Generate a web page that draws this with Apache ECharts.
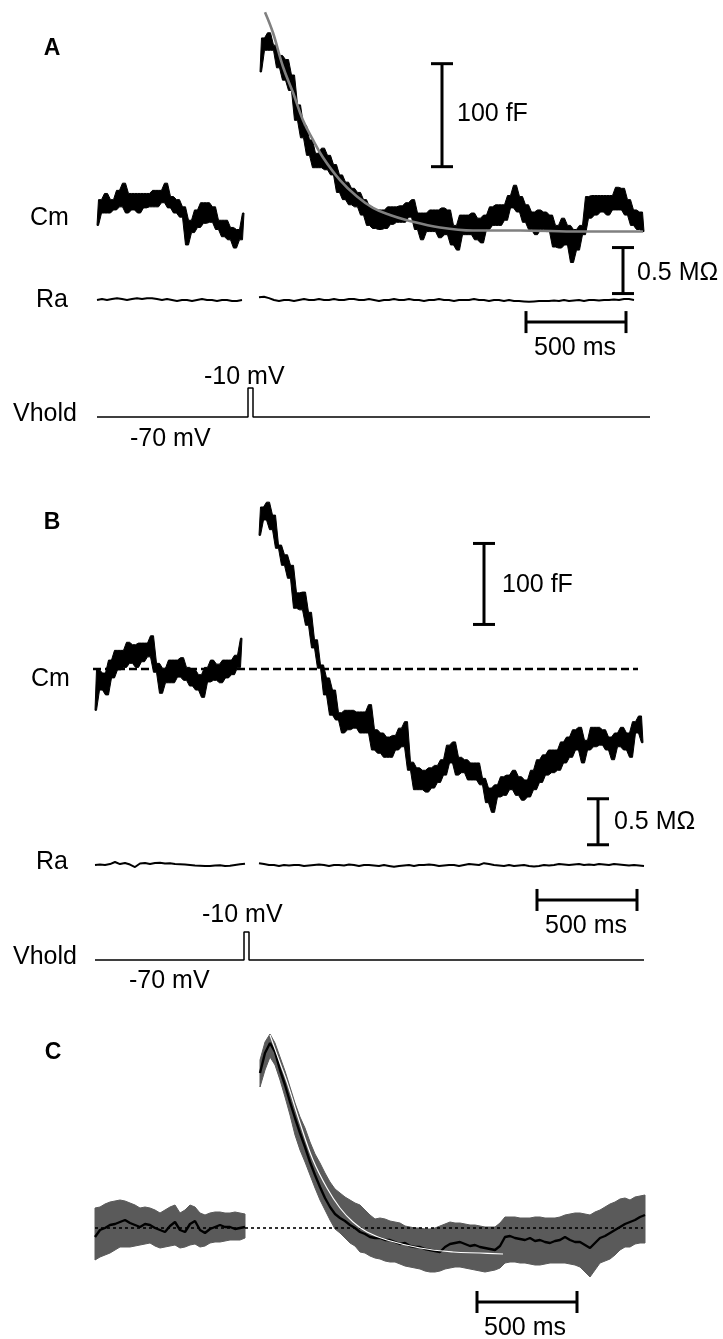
<!DOCTYPE html>
<html><head><meta charset="utf-8">
<script src="https://cdn.jsdelivr.net/npm/echarts@6/dist/echarts.min.js"></script>
<style>html,body{margin:0;padding:0;background:#fff}#chart{width:723px;height:1339px}</style>
</head><body><div id="chart"></div>
<script>
// ---------------- DATA ----------------
// Time base: ms. Cm in fF (relative to pre-pulse baseline), Ra in MOhm (relative), Vhold in mV.
const SCALE_MS = 500, SCALE_FF = 100, SCALE_MOHM = 0.5;
const TICK_LABELS = ['100 fF', '0.5 MΩ', '500 ms', '-10 mV', '-70 mV'];

// Panel A - Cm, sampled every 15 ms (alternating upper / lower edge of the noisy trace)
const A_CM_PRE_T0 = 0, A_CM_POST_T0 = 815, CM_DT = 15;
const A_CM_PRE = [-13,12,-1,18,-1,12,2,21,5,28,-1,18,2,18,-1,18,4,18,5,21,5,21,9,28,4,15,-1,12,-5,5,-32,-8,-20,2,-15,9,-11,9,-10,5,-17,-8,-24,-8,-27,-15,-35,-17,-27,-1];
const A_CM_POST = [136,169,157,174,157,162,140,152,128,148,118,133,89,104,72,84,55,70,43,57,43,62,41,55,36,46,19,36,12,29,7,23,5,19,-3,12,-13,5,-16,2,-17,2,-16,5,-12,5,-10,6,-10,9,-5,12,-17,-1,-27,-1,-19,2,-19,2,-25,4,-22,2,-32,-13,-37,-3,-22,-3,-22,-1,-27,-6,-30,-3,-17,5,-13,7,-13,7,-8,16,4,26,0,15,-10,7,-17,0,-22,2,-17,0,-19,-3,-34,-13,-35,-6,-32,-13,-49,-17,-37,-13,-22,15,-6,16,-3,16,0,16,-3,16,2,24,2,23,-3,12,-13,2,-17,0,-19];
const A_FIT_T = [840,880,930,980,1030,1080,1130,1215,1300,1380,1465,1550,1715,1880,2115,2415,2730];
const A_FIT_V = [194,174,141,116,89,70,53,31,15,4,-3,-8,-15,-18,-18,-19,-19];
// Panel A - Ra, every 25 ms
const RA_DT = 25, A_RA_PRE_T0 = 0, A_RA_POST_T0 = 810;
const A_RA_PRE = [0,0.01,0,0.01,0.02,0.01,0,0.01,0.02,0.01,0.02,0.02,0.01,0,0.01,0,-0.01,0,0,-0.01,0,0.01,0,0,-0.01,0,0,-0.01,-0.01,0];
const A_RA_POST = [0.03,0.035,0.02,0,-0.01,0,0,-0.01,0,0.01,0,0,0.01,0,0,0.01,0,0,0.01,0.01,0,0,0.01,0,-0.01,0,0,0.01,0,0,0.01,0,0,-0.01,0,0,0.01,0,0,-0.01,0,0,0,0.01,0,0,-0.01,0,0,-0.01,0,-0.01,-0.01,-0.015,-0.02,-0.015,-0.01,-0.01,-0.01,-0.005,-0.01,0,-0.01,-0.005,0,-0.01,0,0,-0.005,0,0,0.005,0,0.01,0.01,0];
// Panel A - Vhold
const A_V_T = [0,755,755,780,780,2765];
const A_V_MV = [-70,-70,-10,-10,-70,-70];

// Panel B - Cm, every 15 ms
const B_CM_PRE_T0 = 0, B_CM_POST_T0 = 820;
const B_CM_PRE = [-51,-1,-26,-5,-32,11,-11,23,-1,23,2,33,7,30,2,32,9,32,15,41,-4,7,-30,1,-17,11,-17,11,-10,14,-14,2,-21,-1,-26,-7,-35,2,-16,11,-14,6,-17,11,-11,11,-7,17,2,38];
const B_CM_POST = [165,200,184,206,172,190,149,153,128,141,112,128,75,94,73,95,54,70,26,36,1,5,-32,-11,-57,-26,-63,-54,-79,-51,-75,-51,-73,-53,-79,-53,-79,-44,-100,-75,-104,-79,-109,-84,-109,-82,-100,-73,-96,-65,-125,-115,-149,-122,-149,-125,-152,-122,-147,-119,-140,-112,-131,-94,-116,-90,-131,-109,-128,-112,-137,-116,-137,-116,-143,-135,-165,-147,-177,-143,-158,-133,-156,-131,-149,-125,-156,-133,-162,-137,-158,-125,-149,-112,-140,-106,-131,-100,-128,-100,-125,-90,-116,-84,-109,-75,-100,-72,-116,-88,-100,-72,-96,-72,-94,-75,-100,-84,-112,-79,-96,-72,-100,-79,-109,-65,-79,-58,-91];
const B_BASELINE_T = [-10, 2715];
const B_BASELINE_V = [0, 0];
// Panel B - Ra
const B_RA_PRE_T0 = 0, B_RA_POST_T0 = 820;
const B_RA_PRE = [0,0.005,0,0.01,0.033,0.01,0.022,0.005,-0.022,0.016,0.022,0.01,0.022,0.025,0.016,0.018,0.01,0.008,0.005,0,-0.005,-0.008,-0.011,-0.011,-0.005,-0.003,-0.011,-0.008,0,0.008,0.014];
const B_RA_POST = [0.02,0.01,0,0,-0.01,0,-0.005,0,0,-0.01,-0.005,0,0.005,0,-0.01,0,0,-0.005,0.005,0,-0.01,0,0,-0.005,-0.01,0,-0.01,-0.02,-0.01,-0.005,0,-0.01,0,0,0.005,0,-0.01,-0.005,0,0,-0.01,0,0.01,0.005,0,0.02,0.01,0,-0.005,-0.01,0,-0.01,-0.005,0,-0.01,-0.015,-0.01,0,-0.005,0,0.01,0.005,0,0.005,0.01,0,0.005,0,0.01,0.005,0,0.01,0.005,0,-0.005,0,-0.005,-0.01];
// Panel B - Vhold
const B_V_T = [0,745,745,770,770,2745];
const B_V_MV = [-70,-70,-10,-10,-70,-70];

// Panel C - mean and mean ± error band, every 25 ms
const C_DT = 25, C_PRE_T0 = 0, C_POST_T0 = 825;
const C_UP_PRE = [20,21,24,26,27,28,27,25,23,20,21,20,18,15,18,21,23,15,18,23,21,15,13,15,16,16,15,15,16,15,14];
const C_LO_PRE = [-32,-29,-27,-25,-22,-19,-19,-19,-18,-17,-16,-15,-18,-20,-19,-18,-17,-20,-19,-17,-16,-19,-18,-15,-14,-14,-13,-12,-12,-12,-10];
const C_MEAN_PRE = [-9,-2,0,3,4,6,8,5,3,1,4,3,0,-2,-4,2,6,-2,-4,4,7,-2,-5,-1,1,3,1,1,-1,0,1];
const C_UP_POST = [168,186,194,185,171,157,141,125,111,100,86,74,65,55,46,39,35,31,28,25,23,18,13,9,10,9,7,6,5,2,1,0,0,-1,-1,0,2,4,6,5,5,4,3,3,2,1,1,1,5,11,11,11,10,10,10,11,11,10,10,10,11,13,14,15,15,14,13,16,18,21,24,26,29,30,28,31,32,33];
const C_LO_POST = [141,158,171,163,148,131,113,93,78,66,53,40,28,18,8,-1,-5,-10,-15,-18,-24,-25,-28,-30,-31,-33,-34,-34,-36,-38,-39,-40,-41,-43,-44,-44,-43,-41,-40,-39,-39,-40,-41,-42,-43,-44,-43,-42,-40,-35,-34,-34,-35,-35,-36,-37,-37,-36,-35,-35,-35,-35,-36,-37,-39,-44,-49,-42,-35,-33,-31,-27,-22,-19,-19,-16,-15,-15];
const C_MEAN_POST = [155,175,185,176,158,143,126,110,95,81,66,53,41,30,21,14,10,7,3,0,-4,-6,-9,-10,-10,-12,-12,-14,-16,-15,-18,-19,-19,-21,-22,-23,-24,-19,-16,-15,-14,-16,-18,-17,-19,-20,-21,-22,-18,-9,-8,-10,-11,-12,-10,-13,-12,-14,-15,-13,-12,-9,-12,-14,-14,-17,-20,-15,-10,-8,-5,-2,1,4,6,8,11,13];
const C_FIT_T = [875,925,960,1025,1090,1160,1225,1290,1360,1460,1625,1790,1925,2040];
const C_FIT_V = [193,165,146,105,68,40,20,6,-4,-12,-20,-24,-25,-26];
const C_BASELINE_T = [0, 2740];
const C_BASELINE_V = [0, 0];

// ---------------- LAYOUT (pixels / anchors) ----------------
const FONT = '"Liberation Sans", Arial, Helvetica, sans-serif';
const X_MAX = 2800, GRID_W = 560;
const P = {
  A: { left: 97, top: 0, height: 440, cm: { ref: 212, val: 0, ppu: 1.03 }, ra: { ref: 300, val: 0, ppu: 92 }, v: { ref: 417, val: -70, ppu: 29 / 60 } },
  B: { left: 95, top: 470, height: 520, cm: { ref: 669, val: 0, ppu: 0.81 }, ra: { ref: 865, val: 0, ppu: 92 }, v: { ref: 960, val: -70, ppu: 28 / 60 } },
  C: { left: 95, top: 1000, height: 339, cm: { ref: 1228, val: 0, ppu: 1 } }
};
// scale bar anchors in data units
const BAR = {
  A: { ffT: 1725, ffV: 44, raT: 2630, raV: 0.07, msT: 2145, msRa: -0.24 },
  B: { ffT: 1945, ffV: 55, raT: 2515, raV: 0.22, msT: 2210, msRa: -0.38 },
  C: { msT: 1910, msV: -74 }
};

function yr(p, top, height) {
  const max = p.val + (p.ref - top) / p.ppu;
  return { min: max - height / p.ppu, max: max };
}
function sampled(t0, dt, vals) { return vals.map((v, i) => [t0 + i * dt, v]); }
function zip(ts, vs) { return ts.map((t, i) => [t, vs[i]]); }

const grids = [], xAxes = [], yAxes = [];
['A', 'B', 'C'].forEach((k, gi) => {
  const p = P[k];
  grids.push({ left: p.left, top: p.top, width: GRID_W, height: p.height, containLabel: false });
  xAxes.push({ gridIndex: gi, type: 'value', min: 0, max: X_MAX, show: false });
  ['cm', 'ra', 'v'].forEach(a => {
    if (!p[a]) return;
    const r = yr(p[a], p.top, p.height);
    yAxes.push({ gridIndex: gi, type: 'value', min: r.min, max: r.max, show: false });
  });
});
// yAxis indices: A cm 0, ra 1, v 2; B cm 3, ra 4, v 5; C cm 6

function line(xi, yi, data, color, width, extra) {
  return Object.assign({
    type: 'line', xAxisIndex: xi, yAxisIndex: yi, data: data,
    showSymbol: false, symbol: 'none', clip: false, silent: true, animation: false,
    lineStyle: { color: color, width: width }, z: 3
  }, extra || {});
}
function hbar(xi, yi, t, v) {
  return {
    type: 'line', xAxisIndex: xi, yAxisIndex: yi, data: [[t, v], [t + SCALE_MS, v]],
    symbol: 'rect', symbolSize: [3, 22], showSymbol: true, clip: false, silent: true, animation: false,
    itemStyle: { color: '#000', borderWidth: 0 }, lineStyle: { color: '#000', width: 3 }, z: 4
  };
}
function vbar(xi, yi, t, v, len) {
  return {
    type: 'line', xAxisIndex: xi, yAxisIndex: yi, data: [[t, v], [t, v + len]],
    symbol: 'rect', symbolSize: [22, 3], showSymbol: true, clip: false, silent: true, animation: false,
    itemStyle: { color: '#000', borderWidth: 0 }, lineStyle: { color: '#000', width: 3 }, z: 4
  };
}
// filled region between two sampled edges (used for the C error band)
function band(xi, yi, t0, dt, up, lo) {
  return {
    type: 'custom', xAxisIndex: xi, yAxisIndex: yi, coordinateSystem: 'cartesian2d',
    data: [[t0, up[0]]], clip: false, silent: true, animation: false, z: 1,
    renderItem: function (params, api) {
      const pts = [];
      for (let i = 0; i < up.length; i++) pts.push(api.coord([t0 + i * dt, up[i]]));
      for (let i = lo.length - 1; i >= 0; i--) pts.push(api.coord([t0 + i * dt, lo[i]]));
      return { type: 'polygon', shape: { points: pts }, style: { fill: '#5a5a5a', stroke: '#5a5a5a', lineWidth: 1 } };
    }
  };
}
// noisy trace: the area swept between consecutive samples is filled (dense noise look)
function noisy(xi, yi, t0, dt, vals) {
  return {
    type: 'custom', xAxisIndex: xi, yAxisIndex: yi, coordinateSystem: 'cartesian2d',
    data: [[t0, vals[0]]], clip: false, silent: true, animation: false, z: 3,
    renderItem: function (params, api) {
      const n = vals.length, up = [], lo = [];
      up.push(api.coord([t0, vals[0]])); lo.push(api.coord([t0, vals[0]]));
      for (let i = 0; i < n - 1; i++) {
        const tm = t0 + (i + 0.5) * dt;
        up.push(api.coord([tm, Math.max(vals[i], vals[i + 1])]));
        lo.push(api.coord([tm, Math.min(vals[i], vals[i + 1])]));
      }
      up.push(api.coord([t0 + (n - 1) * dt, vals[n - 1]]));
      lo.push(api.coord([t0 + (n - 1) * dt, vals[n - 1]]));
      const pts = up.concat(lo.reverse());
      return { type: 'polygon', shape: { points: pts }, style: { fill: '#000', stroke: '#000', lineWidth: 1, lineJoin: 'miter' } };
    }
  };
}

const series = [
  // Panel A
  noisy(0, 0, A_CM_PRE_T0, CM_DT, A_CM_PRE),
  noisy(0, 0, A_CM_POST_T0, CM_DT, A_CM_POST),
  line(0, 0, zip(A_FIT_T, A_FIT_V), '#808080', 2.6, { smooth: 0.4, z: 5 }),
  line(0, 1, sampled(A_RA_PRE_T0, RA_DT, A_RA_PRE), '#000', 2),
  line(0, 1, sampled(A_RA_POST_T0, RA_DT, A_RA_POST), '#000', 2),
  line(0, 2, zip(A_V_T, A_V_MV), '#000', 1.5),
  vbar(0, 0, BAR.A.ffT, BAR.A.ffV, SCALE_FF),
  vbar(0, 1, BAR.A.raT, BAR.A.raV, SCALE_MOHM),
  hbar(0, 1, BAR.A.msT, BAR.A.msRa),
  // Panel B
  line(1, 3, zip(B_BASELINE_T, B_BASELINE_V), '#000', 2.6, { lineStyle: { color: '#000', width: 2.6, type: [8, 4] }, z: 2 }),
  noisy(1, 3, B_CM_PRE_T0, CM_DT, B_CM_PRE),
  noisy(1, 3, B_CM_POST_T0, CM_DT, B_CM_POST),
  line(1, 4, sampled(B_RA_PRE_T0, RA_DT, B_RA_PRE), '#000', 2),
  line(1, 4, sampled(B_RA_POST_T0, RA_DT, B_RA_POST), '#000', 2),
  line(1, 5, zip(B_V_T, B_V_MV), '#000', 1.5),
  vbar(1, 3, BAR.B.ffT, BAR.B.ffV, SCALE_FF),
  vbar(1, 4, BAR.B.raT, BAR.B.raV, SCALE_MOHM),
  hbar(1, 4, BAR.B.msT, BAR.B.msRa),
  // Panel C
  band(2, 6, C_PRE_T0, C_DT, C_UP_PRE, C_LO_PRE),
  band(2, 6, C_POST_T0, C_DT, C_UP_POST, C_LO_POST),
  line(2, 6, zip(C_BASELINE_T, C_BASELINE_V), '#000', 1.6, { lineStyle: { color: '#000', width: 1.6, type: [3, 3] }, z: 2 }),
  line(2, 6, sampled(C_PRE_T0, C_DT, C_MEAN_PRE), '#000', 2.4),
  line(2, 6, sampled(C_POST_T0, C_DT, C_MEAN_POST), '#000', 2.4),
  line(2, 6, zip(C_FIT_T, C_FIT_V), '#ffffff', 1.2, { smooth: 0.4, z: 5 }),
  hbar(2, 6, BAR.C.msT, BAR.C.msV)
];

function txt(s, x, y, opts) {
  opts = opts || {};
  return {
    type: 'text', x: x, y: y, silent: true, z: 10,
    style: {
      text: s, fill: '#000',
      font: (opts.bold ? 'bold ' : '') + (opts.size || 25) + 'px ' + FONT,
      align: opts.align || 'left', verticalAlign: 'middle',
      textAlign: opts.align || 'left', textVerticalAlign: 'middle'
    }
  };
}
const graphics = [
  txt('A', 52, 49, { bold: true, size: 23, align: 'center' }),
  txt('Cm', 30, 218), txt('Ra', 36, 300), txt('Vhold', 13, 414),
  txt(TICK_LABELS[3], 204, 377), txt(TICK_LABELS[4], 130, 439),
  txt(TICK_LABELS[0], 457, 114), txt(TICK_LABELS[1], 637, 273), txt(TICK_LABELS[2], 575, 348, { align: 'center' }),

  txt('B', 52, 523, { bold: true, size: 23, align: 'center' }),
  txt('Cm', 31, 679), txt('Ra', 36, 862), txt('Vhold', 13, 957),
  txt(TICK_LABELS[3], 202, 915), txt(TICK_LABELS[4], 129, 981),
  txt(TICK_LABELS[0], 502, 585), txt(TICK_LABELS[1], 614, 822), txt(TICK_LABELS[2], 586, 926, { align: 'center' }),

  txt('C', 53, 1053, { bold: true, size: 23, align: 'center' }),
  txt(TICK_LABELS[2], 525, 1328, { align: 'center' })
];

const chart = echarts.init(document.getElementById('chart'), null, { renderer: 'canvas', width: 723, height: 1339 });
chart.setOption({
  animation: false,
  backgroundColor: '#ffffff',
  grid: grids, xAxis: xAxes, yAxis: yAxes,
  series: series,
  graphic: graphics
});
</script></body></html>
